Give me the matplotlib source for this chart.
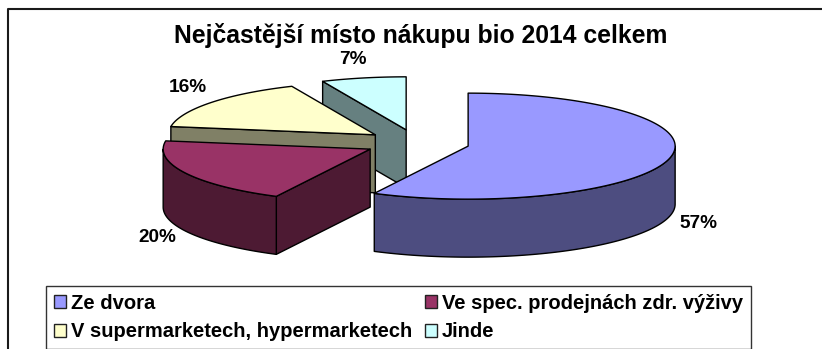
import numpy as np
import matplotlib
matplotlib.use("Agg")
import matplotlib.pyplot as plt
from matplotlib.patches import Polygon, Patch

title = "Nejčastější místo nákupu bio 2014 celkem"
categories = ["Ze dvora", "Ve spec. prodejnách zdr. výživy",
              "V supermarketech, hypermarketech", "Jinde"]
values = [57.49, 20.0, 15.9, 6.61]
colors = ["#9999FF", "#993366", "#FFFFCC", "#CCFFFF"]
side_colors = ["#4D4D80", "#4D1A33", "#808066", "#668080"]

plt.rcParams["font.family"] = ["Liberation Sans", "DejaVu Sans"]
W, H = 822, 349
fig = plt.figure(figsize=(W / 100, H / 100), dpi=100, facecolor="white")
ax = fig.add_axes([0, 0, 1, 1])
ax.set_xlim(0, W)
ax.set_ylim(H, 0)
ax.axis("off")

# chart frame (open on the right and bottom: the screenshot crops it)
ax.plot([7.5, 7.5, W], [H, 8.5, 8.5], color="#1a1a1a", lw=1.5, solid_capstyle="butt")

CX, CY, RX, RY, DEPTH, EXPLODE = 417, 143, 207, 53, 58, 0.254


def pt(c, t, r=1.0):
    return np.array([c[0] + r * RX * np.sin(t), c[1] - r * RY * np.cos(t)])


def arc(c, t0, t1):
    ts = np.linspace(t0, t1, max(2, int(abs(t1 - t0) * 60)))
    return np.column_stack([c[0] + RX * np.sin(ts), c[1] - RY * np.cos(ts)])


edges = np.cumsum([0] + values) / sum(values) * 2 * np.pi
wedges = []
for i in range(len(values)):
    t0, t1 = edges[i], edges[i + 1]
    mid = (t0 + t1) / 2
    wedges.append((i, t0, t1, pt((CX, CY), mid, EXPLODE)))

# back-to-front painting order
order = [3, 2, 0, 1]
z = 3
down = np.array([0, DEPTH])
for i in order:
    _, t0, t1, c = wedges[i]
    c = np.asarray(c)
    kw = dict(edgecolor="black", lw=1.0, joinstyle="round")
    # radial faces
    for t, vis in ((t0, np.sin(t0) < -1e-6), (t1, np.sin(t1) > 1e-6)):
        if vis:
            p = pt(c, t)
            ax.add_patch(Polygon([c, p, p + down, c + down], closed=True,
                                 facecolor=side_colors[i], zorder=z, **kw))
    # outer rim: only the part that faces the viewer
    a, b = max(t0, np.pi / 2), min(t1, 3 * np.pi / 2)
    if b > a:
        top = arc(c, a, b)
        ax.add_patch(Polygon(np.vstack([top, (top + down)[::-1]]), closed=True,
                             facecolor=side_colors[i], zorder=z, **kw))
    # top surface
    ax.add_patch(Polygon(np.vstack([c, arc(c, t0, t1)]), closed=True,
                         facecolor=colors[i], zorder=z + 0.5, **kw))
    z += 1

ax.text(421, 36, title, fontsize=17.8, fontweight="bold", ha="center", va="center", color="black")

label_pos = [(698, 223), (157, 238), (188, 87), (353, 60)]
for v, (lx, ly) in zip(values, label_pos):
    ax.text(lx, ly, f"{round(v)}%", fontsize=13.7, fontweight="bold",
            ha="center", va="center", color="black", zorder=20)

handles = [Patch(facecolor=colors[i], edgecolor="#222222", lw=1.0, label=categories[i])
           for i in (0, 2, 1, 3)]
fs = 14.5
px = fs * 100 / 72
leg = ax.legend(handles=handles, ncol=2, loc="upper left",
                bbox_to_anchor=(45.5, 285.5), bbox_transform=ax.transData,
                fontsize=fs, frameon=True, fancybox=False, edgecolor="#333333",
                framealpha=1, borderaxespad=0, borderpad=0.4,
                handlelength=12 / px, handleheight=12 / px, handletextpad=5 / px,
                columnspacing=13 / px, labelspacing=(30 - px) / px)
leg.get_frame().set_linewidth(1.0)
leg.set_zorder(30)
for t in leg.get_texts():
    t.set_fontweight("bold")

fig.canvas.draw()
# the legend box spans the chart width in the reference
bb = leg.get_frame()
bb.set_width(749)

fig.savefig("out.png", dpi=100)
